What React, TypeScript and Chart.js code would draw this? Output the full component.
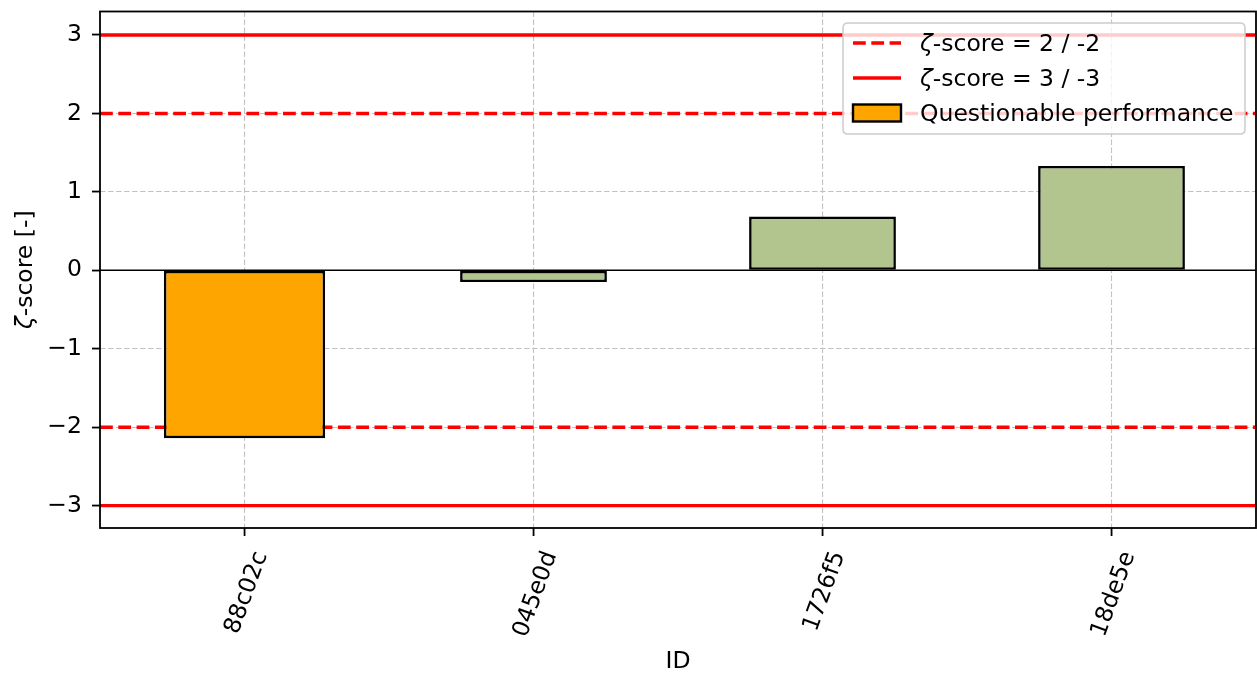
import React, { useEffect, useRef } from 'react';
import { Chart, registerables } from 'chart.js';

Chart.register(...registerables);

// ---- data ----
const categories = ['88c02c', '045e0d', '1726f5', '18de5e'];
const questionableValues = [-2.14, null, null, null];
const acceptableValues = [null, -0.15, 0.685, 1.33];
const yTickValues = [-3, -2, -1, 0, 1, 2, 3];
const warningLimits = [2, -2];
const actionLimits = [3, -3];
const legendLabels = ['-score = 2 / -2', '-score = 3 / -3', 'Questionable performance'];
const xTitle = 'ID';
const yTitleRest = '-score [-]';
const zeta = '\u03b6';

const FONT = '"DejaVu Sans"';
const FS = 23.5;
const ORANGE = '#ffa500';
const GREEN = '#b3c58e';
const RED = '#ff0000';

const refPlugin = {
  id: 'refPlugin',
  beforeDatasetsDraw(chart: any) {
    const { ctx, chartArea: a, scales } = chart;
    const y = scales.y;
    ctx.save();
    ctx.beginPath();
    ctx.rect(a.left, a.top, a.right - a.left, a.bottom - a.top);
    ctx.clip();
    // zero line
    const y0 = y.getPixelForValue(0);
    ctx.strokeStyle = '#000';
    ctx.lineWidth = 1.5;
    ctx.setLineDash([]);
    ctx.beginPath();
    ctx.moveTo(a.left, y0);
    ctx.lineTo(a.right, y0);
    ctx.stroke();
    // limits
    ctx.strokeStyle = RED;
    ctx.lineWidth = 3.4;
    for (const v of warningLimits) {
      const py = y.getPixelForValue(v);
      ctx.setLineDash([12.8, 5.5]);
      ctx.beginPath();
      ctx.moveTo(a.left, py);
      ctx.lineTo(a.right, py);
      ctx.stroke();
    }
    for (const v of actionLimits) {
      const py = y.getPixelForValue(v);
      ctx.setLineDash([]);
      ctx.beginPath();
      ctx.moveTo(a.left, py);
      ctx.lineTo(a.right, py);
      ctx.stroke();
    }
    ctx.restore();
  },
  afterDraw(chart: any) {
    const { ctx, chartArea: a, scales } = chart;
    const x = scales.x;
    ctx.save();
    // frame
    ctx.strokeStyle = '#000';
    ctx.lineWidth = 1.8;
    ctx.setLineDash([]);
    ctx.strokeRect(a.left, a.top, a.right - a.left, a.bottom - a.top);

    // x tick labels, rotated 70deg, centered
    ctx.fillStyle = '#000';
    ctx.font = `${FS}px ${FONT}`;
    ctx.textAlign = 'center';
    ctx.textBaseline = 'alphabetic';
    const rot = (70 * Math.PI) / 180;
    const H = FS * 1.164;
    const top = a.bottom + 19;
    categories.forEach((lab, i) => {
      const px = x.getPixelForValue(i);
      const W = ctx.measureText(lab).width;
      const bh = W * Math.sin(rot) + H * Math.cos(rot);
      const cy = top + bh / 2;
      ctx.save();
      ctx.translate(px, cy);
      ctx.rotate(-rot);
      ctx.fillText(lab, 0, FS * 0.36);
      ctx.restore();
    });

    // x title
    ctx.textAlign = 'center';
    ctx.fillText(xTitle, (a.left + a.right) / 2, 668);

    // y title (rotated)
    const italic = `italic ${FS}px ${FONT}`;
    const normal = `${FS}px ${FONT}`;
    ctx.font = italic;
    const wz = ctx.measureText(zeta).width;
    ctx.font = normal;
    const wr = ctx.measureText(yTitleRest).width;
    const total = wz + wr;
    ctx.save();
    ctx.translate(32, (a.top + a.bottom) / 2);
    ctx.rotate(-Math.PI / 2);
    ctx.textAlign = 'left';
    ctx.font = italic;
    ctx.fillText(zeta, -total / 2, 0);
    ctx.font = normal;
    ctx.fillText(yTitleRest, -total / 2 + wz, 0);
    ctx.restore();

    // legend
    const LW = 402;
    const LH = 111;
    const L = a.right - 11 - LW;
    const T = a.top + 11.5;
    const r = 5;
    ctx.beginPath();
    ctx.moveTo(L + r, T);
    ctx.lineTo(L + LW - r, T);
    ctx.quadraticCurveTo(L + LW, T, L + LW, T + r);
    ctx.lineTo(L + LW, T + LH - r);
    ctx.quadraticCurveTo(L + LW, T + LH, L + LW - r, T + LH);
    ctx.lineTo(L + r, T + LH);
    ctx.quadraticCurveTo(L, T + LH, L, T + LH - r);
    ctx.lineTo(L, T + r);
    ctx.quadraticCurveTo(L, T, L + r, T);
    ctx.closePath();
    ctx.fillStyle = 'rgba(255,255,255,0.8)';
    ctx.fill();
    ctx.strokeStyle = '#cccccc';
    ctx.lineWidth = 1.5;
    ctx.stroke();

    const rows = [T + 20, T + 55, T + 90];
    // handle 1: dashed red
    ctx.strokeStyle = RED;
    ctx.lineWidth = 3.4;
    ctx.setLineDash([12.8, 5.5]);
    ctx.beginPath();
    ctx.moveTo(L + 10, rows[0]);
    ctx.lineTo(L + 58, rows[0]);
    ctx.stroke();
    // handle 2: solid red
    ctx.setLineDash([]);
    ctx.beginPath();
    ctx.moveTo(L + 10, rows[1]);
    ctx.lineTo(L + 58, rows[1]);
    ctx.stroke();
    // handle 3: orange patch
    ctx.fillStyle = ORANGE;
    ctx.fillRect(L + 10, rows[2] - 8.5, 48, 17);
    ctx.strokeStyle = '#000';
    ctx.lineWidth = 2.4;
    ctx.strokeRect(L + 10, rows[2] - 8.5, 48, 17);

    // legend texts
    ctx.fillStyle = '#000';
    ctx.textAlign = 'left';
    ctx.textBaseline = 'alphabetic';
    const tx = L + 77;
    for (let i = 0; i < 2; i++) {
      ctx.font = italic;
      ctx.fillText(zeta, tx, rows[i] + 8);
      ctx.font = normal;
      ctx.fillText(legendLabels[i], tx + wz, rows[i] + 8);
    }
    ctx.font = normal;
    ctx.fillText(legendLabels[2], tx, rows[2] + 8);
    ctx.restore();
  },
};

export default function App() {
  const ref = useRef<HTMLCanvasElement | null>(null);
  useEffect(() => {
    if (!ref.current) return;
    const gridCommon = {
      color: '#c2c2c2',
      lineWidth: 1.1,
      tickLength: 8,
      tickColor: '#000',
      tickWidth: 1.8,
      tickBorderDash: [],
      drawTicks: true,
    };
    const chart = new Chart(ref.current, {
      type: 'bar',
      data: {
        labels: categories,
        datasets: [
          {
            data: questionableValues as any,
            backgroundColor: ORANGE,
            borderColor: '#000',
            borderWidth: 2.6,
            borderSkipped: false,
            barPercentage: 0.558,
            categoryPercentage: 1,
            grouped: false,
          } as any,
          {
            data: acceptableValues as any,
            backgroundColor: GREEN,
            borderColor: '#000',
            borderWidth: 2.6,
            borderSkipped: false,
            barPercentage: 0.508,
            categoryPercentage: 1,
            grouped: false,
          } as any,
        ],
      },
      options: {
        responsive: false,
        animation: false,
        devicePixelRatio: 1,
        layout: { padding: { top: 11.5, right: 1, bottom: 139, left: 0 } },
        plugins: { legend: { display: false }, tooltip: { enabled: false }, title: { display: false } },
        scales: {
          x: {
            type: 'category',
            offset: true,
            grid: { ...gridCommon, offset: false } as any,
            border: { display: false, dash: [5.5, 2.5] },
            ticks: { display: false },
            afterFit: (s: any) => {
              s.paddingLeft = 0;
              s.paddingRight = 0;
            },
          },
          y: {
            type: 'linear',
            min: -3.285,
            max: 3.3,
            afterBuildTicks: (s: any) => {
              s.ticks = yTickValues.map((v) => ({ value: v }));
            },
            afterFit: (s: any) => {
              s.width = 100;
              s.paddingTop = 0;
              s.paddingBottom = 0;
            },
            grid: gridCommon as any,
            border: { display: false, dash: [5.5, 2.5] },
            ticks: {
              color: '#000',
              padding: 10,
              font: { family: 'DejaVu Sans', size: FS },
              callback: (v: any) => String(v).replace('-', '\u2212'),
            },
          },
        },
      },
      plugins: [refPlugin],
    });
    return () => chart.destroy();
  }, []);
  return (
    <div style={{ position: 'absolute', left: 0, top: 0, width: 1257, height: 675, background: '#fff' }}>
      <canvas ref={ref} width={1257} height={675} style={{ display: 'block' }} />
    </div>
  );
}
